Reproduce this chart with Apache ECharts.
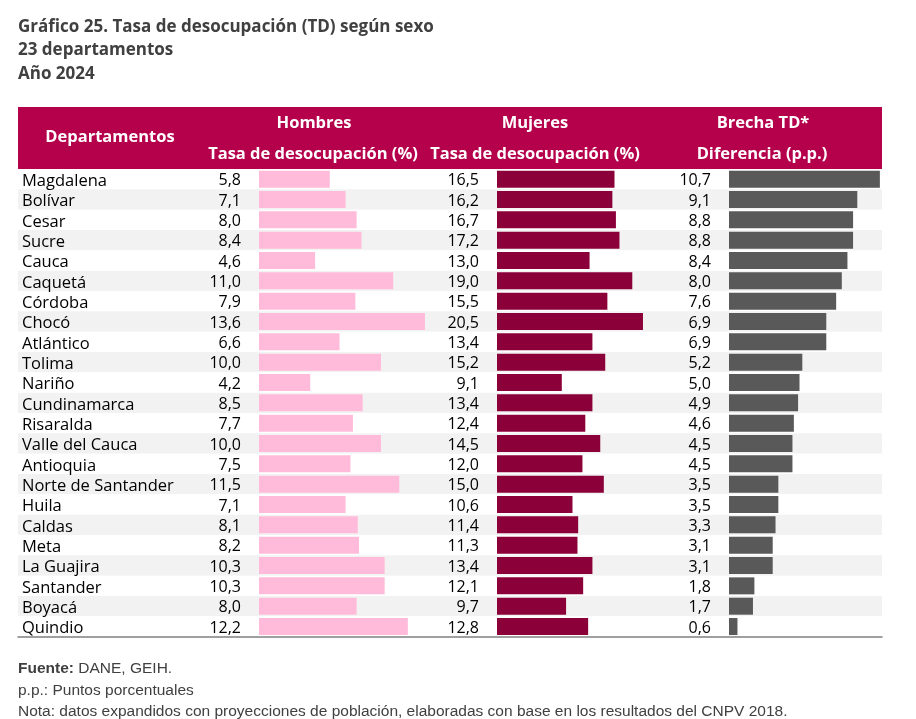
<!DOCTYPE html>
<html lang="es">
<head>
  <meta charset="UTF-8">
  <title>Tasa de desocupación según sexo</title>
  <script src="https://cdn.jsdelivr.net/npm/echarts@6/dist/echarts.min.js"></script>
  <style>
    html, body { margin: 0; padding: 0; background: #fff; }
    #chart { width: 916px; height: 719px; }
  </style>
</head>
<body>
  <div id="chart"></div>
  <script>
    // datos
    const departamentos = ['Magdalena', 'Bolívar', 'Cesar', 'Sucre', 'Cauca', 'Caquetá', 'Córdoba', 'Chocó',
      'Atlántico', 'Tolima', 'Nariño', 'Cundinamarca', 'Risaralda', 'Valle del Cauca', 'Antioquia',
      'Norte de Santander', 'Huila', 'Caldas', 'Meta', 'La Guajira', 'Santander', 'Boyacá', 'Quindio']
    const hombres = [5.8, 7.1, 8.0, 8.4, 4.6, 11.0, 7.9, 13.6, 6.6, 10.0, 4.2, 8.5, 7.7, 10.0, 7.5, 11.5, 7.1, 8.1, 8.2, 10.3, 10.3, 8.0, 12.2]
    const mujeres = [16.5, 16.2, 16.7, 17.2, 13.0, 19.0, 15.5, 20.5, 13.4, 15.2, 9.1, 13.4, 12.4, 14.5, 12.0, 15.0, 10.6, 11.4, 11.3, 13.4, 12.1, 9.7, 12.8]
    const brecha = [10.7, 9.1, 8.8, 8.8, 8.4, 8.0, 7.6, 6.9, 6.9, 5.2, 5.0, 4.9, 4.6, 4.5, 4.5, 3.5, 3.5, 3.3, 3.1, 3.1, 1.8, 1.7, 0.6]

    const FONT = 'Open Sans'
    const TOP = 169
    const HEIGHT = 467.7
    const fmt = v => v.toFixed(1).replace('.', ',')
    const headFont = 'bold 16.5px "Open Sans"'
    const noteFont = '15.5px "Liberation Sans"'

    let chart = echarts.init(document.getElementById('chart'))

    function barGrid(left, width) {
      return { left: left, top: TOP, width: width, height: HEIGHT }
    }
    function hiddenY(gridIndex) {
      return {
        type: 'category', gridIndex: gridIndex, inverse: true, data: departamentos,
        show: false
      }
    }
    function hiddenX(gridIndex, max) {
      return { type: 'value', gridIndex: gridIndex, min: 0, max: max, show: false }
    }
    function barSeries(gridIndex, data, color) {
      return {
        type: 'bar', xAxisIndex: gridIndex, yAxisIndex: gridIndex, data: data,
        barWidth: 17, silent: true,
        itemStyle: { color: color },
        label: {
          show: true, position: 'left', distance: 18, offset: [0, 1.5],
          formatter: p => fmt(p.value),
          fontFamily: FONT, fontSize: 16, color: '#000'
        }
      }
    }
    function headText(x, y, text) {
      return { type: 'text', x: x, y: y, style: { text: text, fill: '#fff', font: headFont, align: 'center', verticalAlign: 'middle' } }
    }

    let option = {
      animation: false,
      title: {
        text: 'Gráfico 25. Tasa de desocupación (TD) según sexo\n23 departamentos\nAño 2024',
        left: 18, top: 15, padding: 0,
        textStyle: { fontFamily: FONT, fontSize: 17, fontWeight: 'bold', color: '#404040', lineHeight: 23.5 }
      },
      grid: [
        { left: 18, top: TOP, width: 864, height: HEIGHT },   // fondo de la tabla
        barGrid(259, 195.2),   // hombres, 12.2 px por punto
        barGrid(497, 170.9),   // mujeres
        barGrid(729, 155.1)    // brecha
      ],
      xAxis: [
        {
          type: 'value', gridIndex: 0, min: 0, max: 1,
          axisLine: { show: true, lineStyle: { color: '#808080', width: 1.5 } },
          axisTick: { show: false }, axisLabel: { show: false }, splitLine: { show: false }
        },
        hiddenX(1, 16), hiddenX(2, 24), hiddenX(3, 11)
      ],
      yAxis: [
        {
          type: 'category', gridIndex: 0, inverse: true, data: departamentos,
          axisLine: { show: false }, axisTick: { show: false },
          axisLabel: {
            inside: true, interval: 0, margin: 4,
            formatter: v => '{n|' + v + '}',
            rich: { n: { fontFamily: FONT, fontSize: 16.5, color: '#000', padding: [4, 0, 0, 0] } }
          },
          splitArea: { show: true, interval: 0, areaStyle: { color: ['#FFFFFF', '#F2F2F2'] } }
        },
        hiddenY(1), hiddenY(2), hiddenY(3)
      ],
      series: [
        barSeries(1, hombres, '#FFBBD9'),
        barSeries(2, mujeres, '#8B0038'),
        barSeries(3, brecha, '#595959')
      ],
      graphic: [
        { type: 'rect', shape: { x: 18, y: 107, width: 864, height: 62 }, style: { fill: '#B5004B' }, z: 0 },
        headText(110, 137, 'Departamentos'),
        headText(314, 123, 'Hombres'),
        headText(313, 154, 'Tasa de desocupación (%)'),
        headText(535, 123, 'Mujeres'),
        headText(535, 154, 'Tasa de desocupación (%)'),
        headText(763, 123, 'Brecha TD*'),
        headText(762, 154, 'Diferencia (p.p.)'),
        // notas
        {
          type: 'text', x: 18, y: 669,
          style: {
            text: '{b|Fuente:} DANE, GEIH.', verticalAlign: 'middle', fill: '#404040',
            font: noteFont,
            rich: { b: { fontWeight: 'bold', fontFamily: 'Liberation Sans', fontSize: 15.5, fill: '#404040' } }
          }
        },
        { type: 'text', x: 18, y: 691, style: { text: 'p.p.: Puntos porcentuales', fill: '#404040', font: noteFont, verticalAlign: 'middle' } },
        { type: 'text', x: 18, y: 712, style: { text: 'Nota: datos expandidos con proyecciones de población, elaboradas con base en los resultados del CNPV 2018.', fill: '#404040', font: noteFont, verticalAlign: 'middle' } }
      ]
    }

    chart.setOption(option)
  </script>
</body>
</html>
